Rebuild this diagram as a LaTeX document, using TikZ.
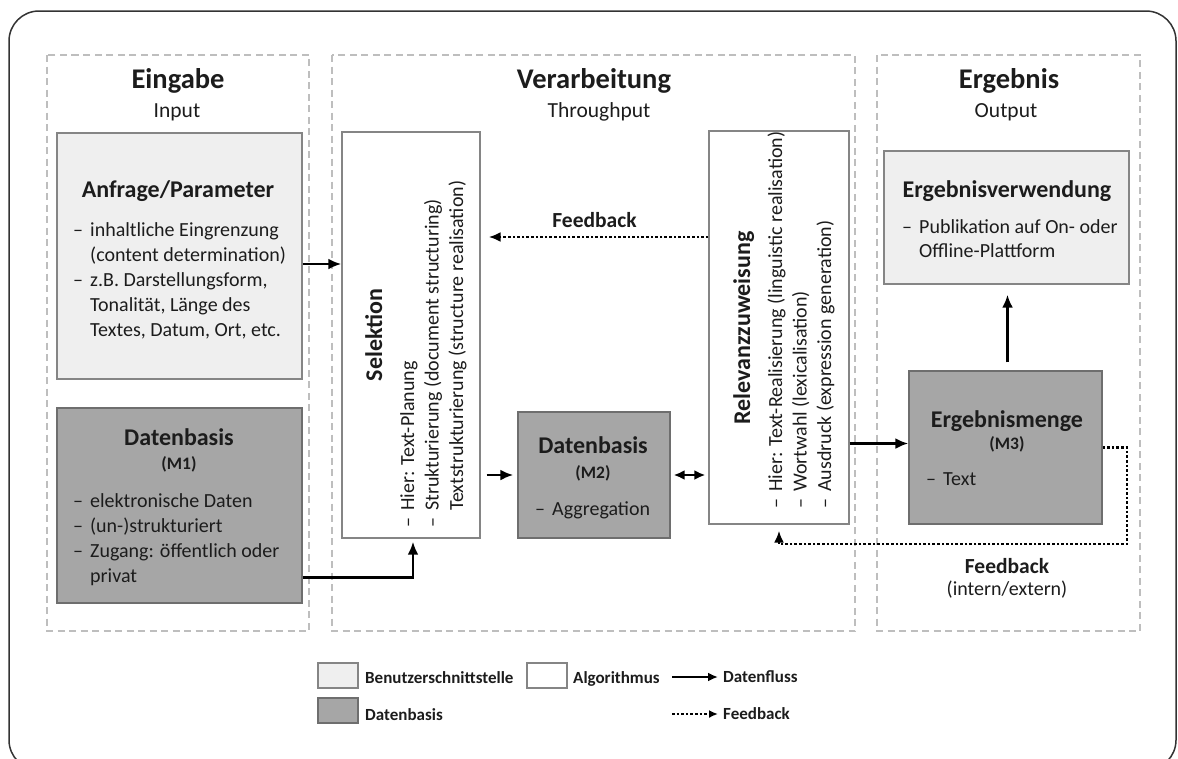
\documentclass[tikz,border=0pt]{standalone}
\usepackage{fontspec}
\setmainfont{Carlito}
\usetikzlibrary{arrows.meta}

\definecolor{lightbox}{HTML}{EFEFEF}
\definecolor{darkbox}{HTML}{A6A6A6}
\definecolor{boxline}{HTML}{858585}
\definecolor{darkline}{HTML}{6E6E6E}
\definecolor{panelline}{HTML}{BEBEBE}
\definecolor{frameline}{HTML}{333333}
\definecolor{txt}{HTML}{1C1C1C}

\newcommand{\fs}[2]{\fontsize{#1}{#2}\selectfont}
\newcommand{\dl}{\makebox[17pt][l]{--}}

\begin{document}
\begin{tikzpicture}[x=1pt,y=-1pt,every node/.style={text=txt}]
			\tikzset{panel/.style={draw=panelline, line width=1.7pt, dash pattern=on 7pt off 4.5pt}}
			\tikzset{box/.style={draw=boxline, line width=1.3pt, inner sep=0pt}}
			\tikzset{userbox/.style={box, fill=lightbox}}
			\tikzset{algobox/.style={box, fill=white}}
			\tikzset{databox/.style={box, fill=darkbox, draw=darkline}}
			\tikzset{sectitle/.style={anchor=base, font=\bfseries\fs{28.5}{34}}}
			\tikzset{secsub/.style={anchor=base, font=\fs{21.5}{26}}}
			\tikzset{boxtitle/.style={anchor=base, font=\bfseries\fs{24}{29}}}
			\tikzset{boxnum/.style={anchor=base, font=\bfseries\fs{17.5}{21}}}
			\tikzset{bullets/.style={anchor=base west, inner sep=0pt, font=\fs{20}{25}}}
			\tikzset{vbullets/.style={bullets, rotate=90, font=\fs{20}{24.5}}}
			\tikzset{legtext/.style={anchor=base west, inner sep=0pt, font=\bfseries\fs{17}{20}}}
			\tikzset{flow/.style={draw=black, line width=2.6pt, -{Latex[length=13pt,width=11pt]}}}
			\tikzset{fback/.style={draw=black, line width=2.6pt, dash pattern=on 2.6pt off 2pt, -{Latex[length=12pt,width=10pt]}}}
			\useasboundingbox (0,0) rectangle (1178,758);
			%frame and panels
			\draw[frameline, line width=1.5pt, rounded corners=30pt] (9,11) rectangle (1176,770);
			\draw[panel] (47,55) rectangle (309,631);
			\draw[panel] (332,55) rectangle (855,631);
			\draw[panel] (877,55) rectangle (1140,631);
			\node[sectitle] (eingabe) at (178,88) {Eingabe};
			\node[secsub] (input) at (177,117) {Input};
			\node[sectitle] (verarbeitung) at (594,88) {Verarbeitung};
			\node[secsub] (throughput) at (599,117) {Throughput};
			\node[sectitle] (ergebnis) at (1009,88) {Ergebnis};
			\node[secsub] (output) at (1006,117) {Output};
			%boxes
			\node[userbox, minimum width=245pt, minimum height=246pt] (anfrage) at (179.5,256) {};
			\node[databox, minimum width=245pt, minimum height=195pt] (m1) at (179.5,505.5) {};
			\node[algobox, minimum width=138pt, minimum height=406pt] (selektion) at (411,335) {};
			\node[databox, minimum width=152pt, minimum height=126pt] (m2) at (594,475) {};
			\node[algobox, minimum width=140pt, minimum height=393pt] (relevanz) at (779,327.5) {};
			\node[userbox, minimum width=245pt, minimum height=133pt] (verwendung) at (1006.5,217.5) {};
			\node[databox, minimum width=193pt, minimum height=153pt] (m3) at (1005.5,447.5) {};
			%box texts
			\node[boxtitle] (anfrageT) at (178,197) {Anfrage/Parameter};
			\node[bullets] (anfrageB) at (73,236) {\begin{tabular}[t]{@{}l@{}l@{}}
				\dl & inhaltliche Eingrenzung\\
				& (content determination)\\
				\dl & z.B. Darstellungsform,\\
				& Tonalität, Länge des\\
				& Textes, Datum, Ort, etc.
			\end{tabular}};
			\node[boxtitle] (m1T) at (179,445) {Datenbasis};
			\node[boxnum] (m1N) at (179,469) {(M1)};
			\node[bullets] (m1B) at (73,507) {\begin{tabular}[t]{@{}l@{}l@{}}
				\dl & elektronische Daten\\
				\dl & (un-)strukturiert\\
				\dl & Zugang: öffentlich oder\\
				& privat
			\end{tabular}};
			\node[boxtitle, rotate=90] (selektionT) at (382,335) {Selektion};
			\node[vbullets] (selektionB) at (414,528) {\begin{tabular}[t]{@{}l@{}l@{}}
				\dl & Hier: Text-Planung\\
				\dl & Strukturierung (document structuring)\\
				& Textstrukturierung (structure realisation)
			\end{tabular}};
			\node[boxtitle] (m2T) at (593,453) {Datenbasis};
			\node[boxnum] (m2N) at (593,478) {(M2)};
			\node[bullets] (m2B) at (535,515) {\dl Aggregation};
			\node[boxtitle, rotate=90] (relevanzT) at (750,328) {Relevanzzuweisung};
			\node[vbullets] (relevanzB) at (782,509) {\begin{tabular}[t]{@{}l@{}l@{}}
				\dl & Hier: Text-Realisierung (linguistic realisation)\\
				\dl & Wortwahl (lexicalisation)\\
				\dl & Ausdruck (expression generation)
			\end{tabular}};
			\node[boxtitle] (verwendungT) at (1007,197) {Ergebnisverwendung};
			\node[bullets, font=\fs{20}{24}] (verwendungB) at (902,233) {\begin{tabular}[t]{@{}l@{}l@{}}
				\dl & Publikation auf On- oder\\
				& Offline-Plattform
			\end{tabular}};
			\node[boxtitle] (m3T) at (1007,427) {Ergebnismenge};
			\node[boxnum] (m3N) at (1007,449) {(M3)};
			\node[bullets] (m3B) at (926,485) {\dl Text};
			%connectors
			\coordinate (fbTop) at (0,237);
			\coordinate (fbCorner) at (1127,544);
			\draw[flow] ([yshift=-8pt]anfrage.east) -- ([yshift=-8pt]anfrage.east -| selektion.west);
			\draw[flow, shorten >=3pt] ([yshift=-72pt]m1.east) -| ([xshift=2pt]selektion.south);
			\draw[flow, shorten <=6pt, shorten >=4pt] (m2.west -| selektion.east) -- (m2.west);
			\draw[flow, {Latex[length=11pt,width=10pt]}-{Latex[length=11pt,width=10pt]}, shorten <=3pt, shorten >=3pt] (m2.east) -- (m2.east -| relevanz.west);
			\draw[fback, shorten >=8pt] (relevanz.west |- fbTop) -- (selektion.east |- fbTop)
				node[pos=0.5, above=5pt, font=\bfseries\fs{21.5}{26}] (fbLabelA) {Feedback};
			\draw[flow] ([yshift=4pt]relevanz.east |- m3.west) -- ([yshift=4pt]m3.west);
			\draw[flow, shorten <=8pt, shorten >=10pt] ([xshift=2pt]m3.north) -- ([xshift=2pt]m3.north |- verwendung.south);
			\draw[fback, shorten >=6pt] (m3.east) -| (fbCorner) -| (relevanz.south);
			\node[anchor=base, font=\bfseries\fs{21.5}{26}] (fbLabelB) at (1007,573) {Feedback};
			\node[anchor=base, font=\fs{20}{24}] (fbLabelC) at (1007,595) {(intern/extern)};
			%legend
			\node[userbox, minimum width=40pt, minimum height=25pt] (legUser) at (338,675.5) {};
			\node[legtext] (legUserT) at (365,683) {Benutzerschnittstelle};
			\node[algobox, minimum width=40pt, minimum height=25pt] (legAlgo) at (547,675.5) {};
			\node[legtext] (legAlgoT) at (573,683) {Algorithmus};
			\node[databox, minimum width=40pt, minimum height=25pt] (legData) at (338,710.5) {};
			\node[legtext] (legDataT) at (365,720) {Datenbasis};
			\coordinate (legFlowA) at (672,677);
			\coordinate (legFlowB) at (718,677);
			\coordinate (legFbA) at (672,714);
			\coordinate (legFbB) at (718,714);
			\draw[flow, -{Latex[length=10pt,width=9pt]}] (legFlowA) -- (legFlowB);
			\draw[fback, -{Latex[length=9pt,width=8pt]}] (legFbA) -- (legFbB);
			\node[legtext] (legFlowT) at (723,682) {Datenfluss};
			\node[legtext] (legFbT) at (723,719) {Feedback};
			\end{tikzpicture}
\end{document}
